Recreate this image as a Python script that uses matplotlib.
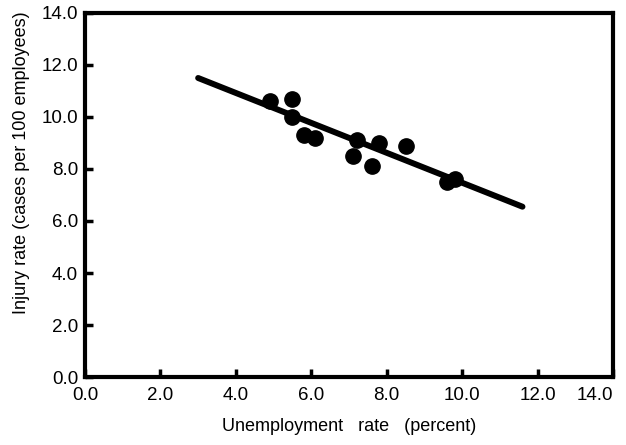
import matplotlib
matplotlib.use('Agg')
import numpy as np
import matplotlib.pyplot as plt

plt.rcParams['font.family'] = ['Liberation Sans', 'DejaVu Sans']

# Unemployment rate (percent) vs injury rate (cases per 100 employees)
unemployment = [4.9, 5.5, 5.5, 5.8, 6.1, 7.2, 7.1, 7.8, 7.6, 8.5, 9.6, 9.8]
injury_rate = [10.6, 10.7, 10.0, 9.3, 9.2, 9.1, 8.5, 9.0, 8.1, 8.9, 7.5, 7.6]

# Fitted line end points
fit_x = [3.0, 11.6]
fit_y = [11.5, 6.55]

tick_vals = [0, 2, 4, 6, 8, 10, 12, 14]
tick_labels = ['0.0', '2.0', '4.0', '6.0', '8.0', '10.0', '12.0', '14.0']

fig = plt.figure(figsize=(6.26, 4.45), dpi=100)
ax = fig.add_axes([0.1358, 0.1528, 0.8434, 0.818])

ax.plot(fit_x, fit_y, color='black', linewidth=4.3, solid_capstyle='round')
ax.plot(unemployment, injury_rate, 'o', color='black', markersize=11)

ax.set_xlim(0, 14)
ax.set_ylim(0, 14)
ax.set_xticks(tick_vals)
ax.set_xticklabels(tick_labels)
ax.set_yticks(tick_vals)
ax.set_yticklabels(tick_labels)
ax.tick_params(direction='in', length=6, width=2.5, labelsize=13.5, pad=5)
ax.tick_params(axis='x', pad=7)
ax.get_xticklabels()[-1].set_horizontalalignment('right')

for spine in ax.spines.values():
    spine.set_linewidth(3)

ax.set_xlabel('Unemployment   rate   (percent)', fontsize=13, labelpad=10)
ax.set_ylabel('Injury rate (cases per 100 employees)', fontsize=13)
ax.yaxis.set_label_coords(-0.105, 0.59)

fig.savefig('out.png', dpi=100)
